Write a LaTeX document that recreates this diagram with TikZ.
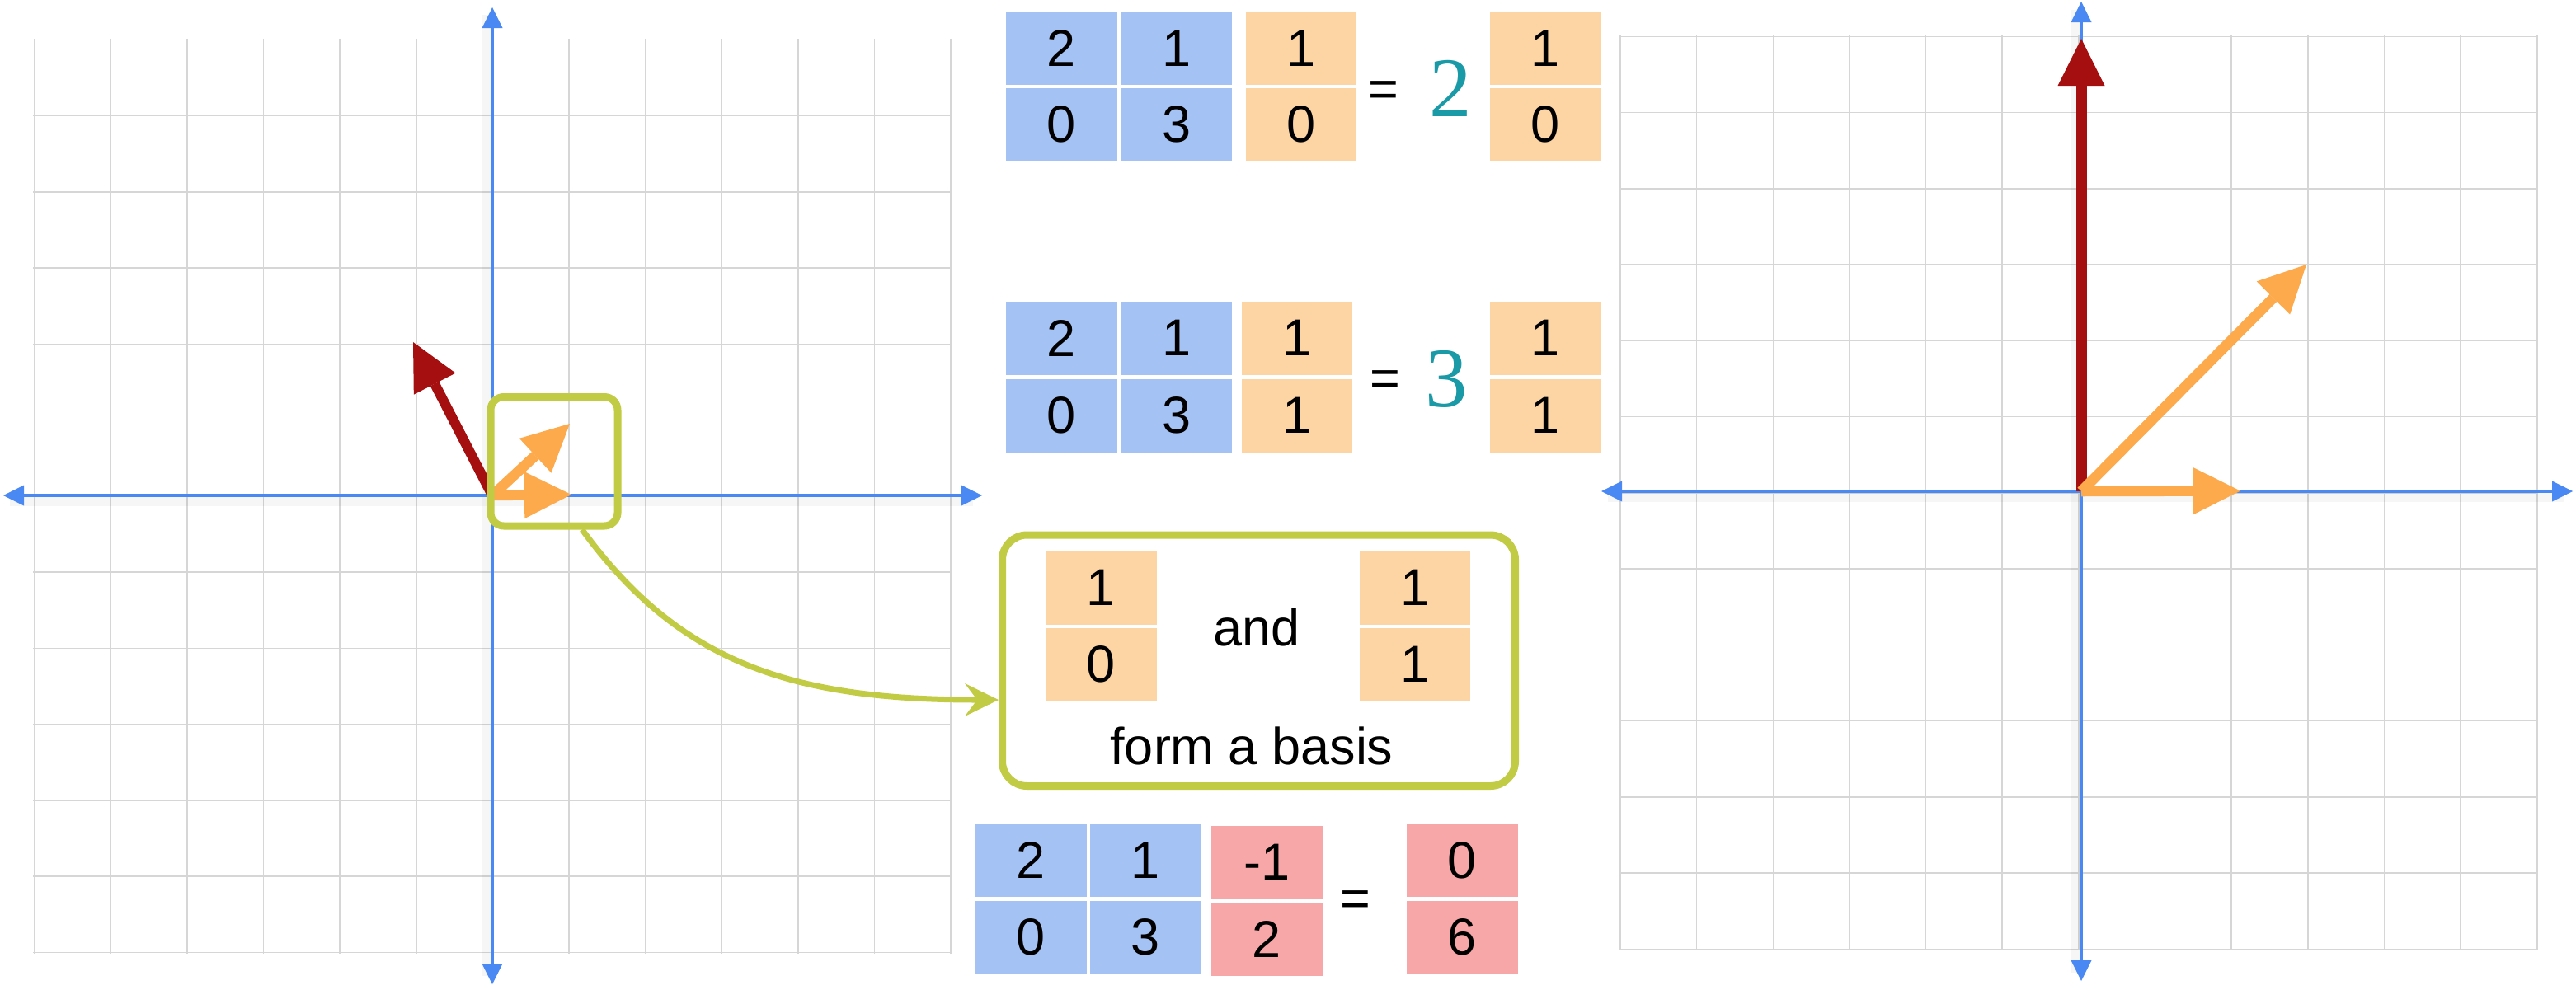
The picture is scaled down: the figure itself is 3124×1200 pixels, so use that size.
\documentclass[tikz,border=0pt]{standalone}
\usepackage{fontspec}
\setmainfont{Liberation Sans}
\newfontfamily\tealserif{Liberation Serif}
\usetikzlibrary{arrows.meta}
\definecolor{cAxis}{HTML}{4A89F3}
\definecolor{cGrid}{HTML}{D6D6D6}
\definecolor{cRedVec}{HTML}{A50F0F}
\definecolor{cOrVec}{HTML}{FDAA4C}
\definecolor{cGreen}{HTML}{C1CB44}
\definecolor{cBlue}{HTML}{A4C2F4}
\definecolor{cOrange}{HTML}{FDD5A5}
\definecolor{cPink}{HTML}{F7A7A8}
\definecolor{cTeal}{HTML}{1A99A6}
\newcommand{\cellfnt}{\fontsize{63}{75}\selectfont}
\newcommand{\scalfnt}{\tealserif\fontsize{103}{120}\selectfont}
\begin{document}
\begin{tikzpicture}[x=1pt,y=-1pt,
 gridln/.style={draw=cGrid,line width=1.6pt},
 axisln/.style={draw=cAxis,line width=4pt,{Triangle[length=25pt,width=25pt,line width=0pt]}-{Triangle[length=25pt,width=25pt,line width=0pt]}},
 axshadow/.style={draw=black,opacity=0.035,line width=14pt},
 redvec/.style={draw=cRedVec,line width=12pt,-{Triangle[length=57pt,width=57pt,line width=0pt]}},
 orvec/.style={draw=cOrVec,line width=12.5pt,-{Triangle[length=57pt,width=57pt,line width=0pt]}},
 greenbox/.style={draw=cGreen,line width=9pt,inner sep=0pt},
 cellbase/.style={anchor=north west,minimum width=134.5pt,minimum height=88.5pt,inner sep=0pt,outer sep=0pt,font=\cellfnt},
 cellb/.style={cellbase,fill=cBlue},
 cello/.style={cellbase,fill=cOrange},
 cellr/.style={cellbase,fill=cPink},
 txt/.style={anchor=base,inner sep=0pt,font=\cellfnt},
 scal/.style={anchor=base,inner sep=0pt,font=\scalfnt,text=cTeal},
 link/.style={draw=cGreen,line width=7pt,-{Stealth[length=41pt,width=40pt,inset=15pt,line width=0pt]}}
]
\useasboundingbox (0,0) rectangle (3124,1200);
\fill[white] (0,0) rectangle (3124,1200);

% ---------- left grid ----------
\foreach \i in {0,...,12} {
  \draw[gridln] ({41.7+\i*92.6},46.8) -- ({41.7+\i*92.6},1156.8);
  \draw[gridln] (40.2,{48.3+\i*92.25}) -- (1154.4,{48.3+\i*92.25});
}
% ---------- right grid ----------
\foreach \i in {0,...,12} {
  \draw[gridln] ({1965+\i*92.65},42.9) -- ({1965+\i*92.65},1152.9);
  \draw[gridln] (1963.5,{44.4+\i*92.25}) -- (3078.3,{44.4+\i*92.25});
}

% ---------- left axes ----------
\coordinate (O1) at (597,601);
\coordinate (L1l) at (4,601);
\coordinate (L1r) at (1191,601);
\coordinate (L1t) at (597,9);
\coordinate (L1b) at (597,1194);
\draw[axshadow] (12,607) -- (1180,607);
\draw[axshadow] (591,18) -- (591,1184);
\draw[axisln] (L1l) -- (L1r);
\draw[axisln] (L1t) -- (L1b);

% ---------- right axes ----------
\coordinate (O2) at (2524,596);
\coordinate (L2l) at (1942,596);
\coordinate (L2r) at (3120,596);
\coordinate (L2t) at (2524,2);
\coordinate (L2b) at (2524,1190);
\draw[axshadow] (1950,602) -- (3110,602);
\draw[axshadow] (2518,12) -- (2518,1180);
\draw[axisln] (L2l) -- (L2r);
\draw[axisln] (L2t) -- (L2b);

% ---------- left vectors ----------
\coordinate (t1r) at (501,415);
\coordinate (t1a) at (693,600);
\coordinate (t1b) at (691,514);
\draw[redvec] (O1) -- (t1r);
\draw[orvec] (O1) -- (t1a);
\draw[orvec] (O1) -- (t1b);

% ---------- right vectors ----------
\coordinate (t2r) at (2524,47);
\coordinate (t2a) at (2717,595.5);
\coordinate (t2b) at (2797,321);
\draw[redvec,line width=13pt] (O2) -- (t2r);
\draw[orvec] (O2) -- (t2a);
\draw[orvec] (O2) -- (t2b);

% ---------- green boxes ----------
\node[greenbox,rounded corners=16pt,minimum width=154pt,minimum height=156.5pt] (zoombox) at (672,559.75) {};
\node[greenbox,rounded corners=30pt,minimum width=622pt,minimum height=304.5pt] (basisbox) at (1526.5,801.25) {};
\coordinate (tipy) at (1000,849);
\draw[link] ([xshift=34pt]zoombox.south) .. controls +(118,162) and +(-250,0) .. (basisbox.west |- tipy);

% ---------- first equation ----------
\node[cellb] (a11) at (1220,14.6) {2};
\node[cellb] (a12) at (1359.6,14.6) {1};
\node[cellb] (a21) at (1220,106.7) {0};
\node[cellb] (a22) at (1359.6,106.7) {3};
\node[cello] (av1) at (1510.6,14.6) {1};
\node[cello] (av2) at (1510.6,106.7) {0};
\node[txt] (aeq) at (1678,129) {=};
\node[scal] (asc) at (1759.5,141.7) {2};
\node[cello] (ar1) at (1807,14.6) {1};
\node[cello] (ar2) at (1807,106.7) {0};

% ---------- second equation ----------
\node[cellb] (b11) at (1220,366) {2};
\node[cellb] (b12) at (1359.6,366) {1};
\node[cellb] (b21) at (1220,460) {0};
\node[cellb] (b22) at (1359.6,460) {3};
\node[cello] (bv1) at (1505.5,366) {1};
\node[cello] (bv2) at (1505.5,460) {1};
\node[txt] (beq) at (1680,480.6) {=};
\node[scal] (bsc) at (1754,493) {3};
\node[cello] (br1) at (1807,366) {1};
\node[cello] (br2) at (1807,460) {1};

% ---------- basis box ----------
\node[cello] (cv1) at (1268,669) {1};
\node[cello] (cv2) at (1268,762) {0};
\node[cello] (cw1) at (1648.5,669) {1};
\node[cello] (cw2) at (1648.5,762) {1};
\node[txt] (andtxt) at (1523.7,783) {and};
\node[txt] (basistxt) at (1518,927.6) {form a basis};

% ---------- third equation ----------
\node[cellb] (d11) at (1183,999.6) {2};
\node[cellb] (d12) at (1322,999.6) {1};
\node[cellb] (d21) at (1183,1093) {0};
\node[cellb] (d22) at (1322,1093) {3};
\node[cellr] (dv1) at (1469,1002) {-1};
\node[cellr] (dv2) at (1469,1095) {2};
\node[txt] (deq) at (1644,1111.5) {=};
\node[cellr] (dr1) at (1706,999.6) {0};
\node[cellr] (dr2) at (1706,1093) {6};
\end{tikzpicture}
\end{document}
